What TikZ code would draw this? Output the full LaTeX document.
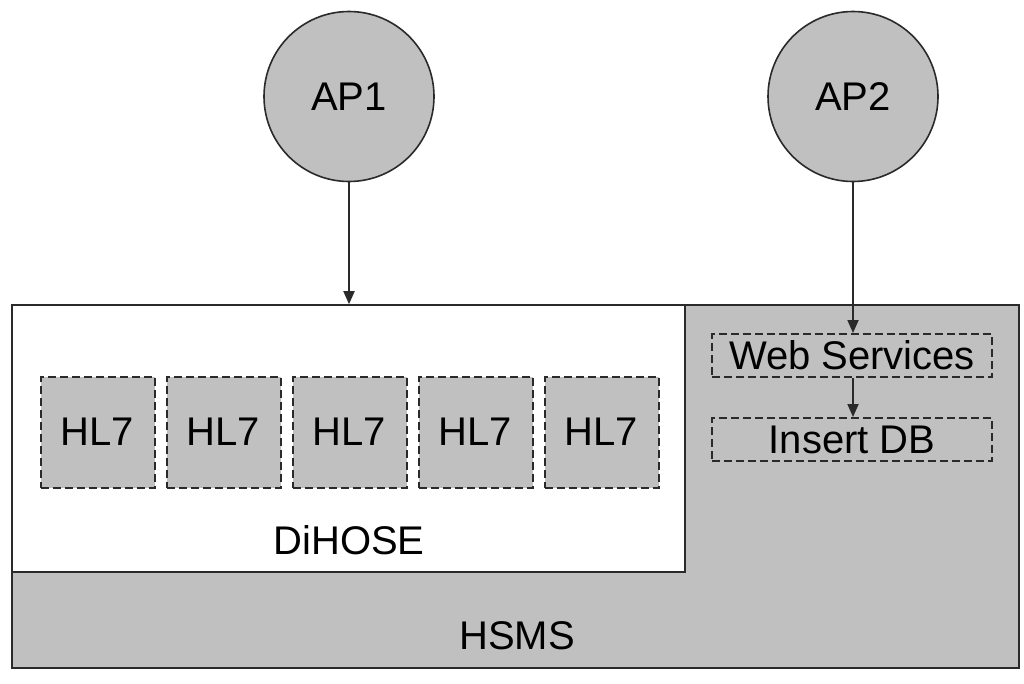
\documentclass[tikz,border=0pt]{standalone}
\usepackage{fontspec}
\setmainfont{Liberation Sans}
\usetikzlibrary{arrows.meta}
\definecolor{boxgray}{HTML}{C0C0C0}
\definecolor{edge}{HTML}{2A2A2A}
\begin{document}
\begin{tikzpicture}[x=1pt,y=-1pt,
  lbl/.style={font=\fontsize{40}{40}\selectfont, inner sep=0pt},
  apcircle/.style={circle, draw=edge, line width=1.6pt, fill=boxgray, minimum size=170pt, inner sep=0pt, font=\fontsize{40}{40}\selectfont},
  dbox/.style={draw=edge, dash pattern=on 8pt off 4pt, line width=2pt, fill=boxgray, inner sep=0pt, font=\fontsize{40}{40}\selectfont},
  hlbox/.style={dbox, minimum width=114pt, minimum height=111pt},
  wbox/.style={dbox, minimum width=280pt, minimum height=43pt},
  conn/.style={draw=edge, line width=1.8pt, -{Triangle[length=13pt,width=11pt]}}
]
\useasboundingbox (0,0) rectangle (1024,683);
\fill[white] (0,0) rectangle (1024,683);
% HSMS
\node[draw=edge, line width=1.6pt, fill=boxgray, minimum width=1007pt, minimum height=363pt, inner sep=0pt] (hsms) at (515.5,486.5) {};
\node[lbl] (hsmslbl) at (517,636) {HSMS};
% DiHOSE
\node[draw=edge, line width=1.6pt, fill=white, minimum width=673pt, minimum height=267pt, inner sep=0pt] (dihose) at (348.5,438.5) {};
\node[lbl] (dihoselbl) at (349,540) {DiHOSE};
% HL7 boxes
\node[hlbox] (h1) at (97.5,432) {HL7};
\node[hlbox] (h2) at (223.5,432) {HL7};
\node[hlbox] (h3) at (349.5,432) {HL7};
\node[hlbox] (h4) at (475.5,432) {HL7};
\node[hlbox] (h5) at (601.5,432) {HL7};
% Web services / Insert DB
\node[wbox] (ws) at (852,355.5) {Web Services};
\node[wbox] (db) at (852,439.5) {Insert DB};
% APs
\node[apcircle] (ap1) at (349,96.5) {AP1};
\node[apcircle] (ap2) at (853,96.5) {AP2};
% connectors
\draw[conn] (ap1.south) -- (ap1.south |- dihose.north);
\draw[conn] (ap2.south) -- (ap2.south |- ws.north);
\draw[conn] (ap2.south |- ws.south) -- (ap2.south |- db.north);
\end{tikzpicture}
\end{document}
